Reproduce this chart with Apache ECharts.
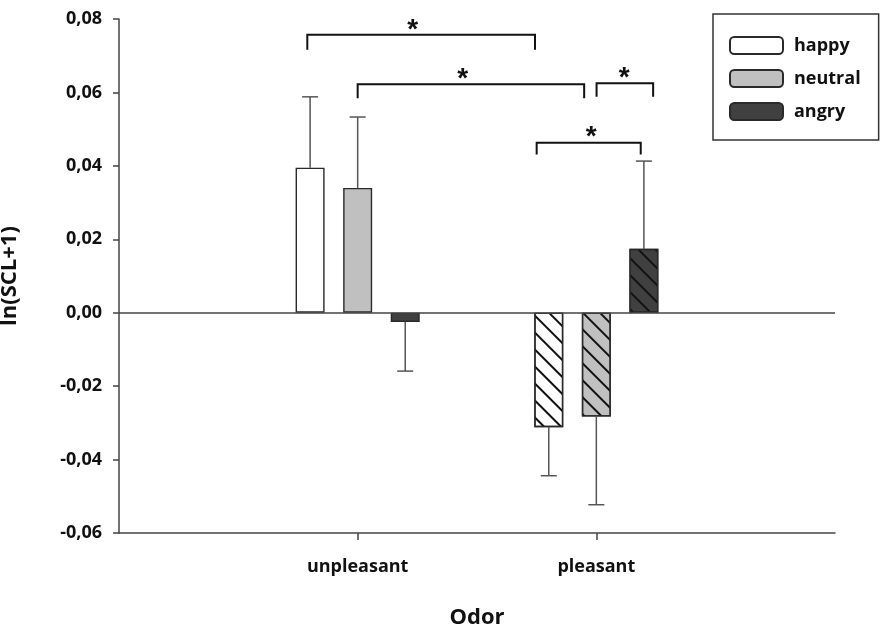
<!DOCTYPE html>
<html>
<head>
<meta charset="utf-8">
<script src="https://cdn.jsdelivr.net/npm/echarts@6/dist/echarts.min.js"></script>
<style>
  html, body { margin: 0; padding: 0; background: #fff; }
  #chart { width: 880px; height: 630px; }
</style>
</head>
<body>
<div id="chart"></div>
<script>
// Odor condition on the x axis, facial expression as the grouped series
const categories = ['unpleasant', 'pleasant'];
const seriesNames = ['happy', 'neutral', 'angry'];

// Mean ln(SCL+1) per odor condition
const happyMean   = [0.0395, -0.0312];
const neutralMean = [0.0340, -0.0283];
const angryMean   = [-0.0025, 0.0174];

// Error bar lengths (drawn away from zero)
const happyErr   = [0.0193, 0.0132];
const neutralErr = [0.0193, 0.0240];
const angryErr   = [0.0134, 0.0239];

// Y axis range and step
const yMin = -0.06;
const yMax = 0.08;
const yStep = 0.02;

// Significance brackets: [start, end, bar level, leg end, asterisk position]
// in (category position, value) units; category 1 = unpleasant, 2 = pleasant
const brackets = [
  [0.789, 1.743, 0.0757, 0.0716, 1.231],
  [1.000, 1.949, 0.0622, 0.0584, 1.440],
  [2.001, 2.238, 0.0625, 0.0588, 2.117],
  [1.750, 2.186, 0.0463, 0.0431, 1.978]
];
const bracketMark = '*';

const FONT = '"Open Sans", "Noto Sans", sans-serif';
const INK = '#111';
const AXIS = '#444';
const fills = ['#ffffff', '#c0c0c0', '#404040'];
const BAR_W = 29;
const BAR_GAP = 0.64;

// Axis slots: an empty slot on either side of the two odor conditions
const slots = [''].concat(categories, ['']);
const means = [happyMean, neutralMean, angryMean];
const errs = [happyErr, neutralErr, angryErr];

const hatch = {
  symbol: 'rect',
  symbolSize: 1,
  dashArrayX: [1, 0],
  dashArrayY: [1.3, 9.3],
  rotation: Math.PI / 4,
  color: '#111',
  backgroundColor: 'rgba(0,0,0,0)'
};

const barSeries = seriesNames.map(function (name, si) {
  const data = [null];
  means[si].forEach(function (v, ci) {
    const item = { value: v };
    if (categories[ci] === 'pleasant') item.itemStyle = { decal: hatch };
    data.push(item);
  });
  data.push(null);
  const s = {
    name: name,
    type: 'bar',
    barWidth: BAR_W,
    barGap: (BAR_GAP * 100) + '%',
    itemStyle: { color: fills[si], borderColor: '#2a2a2a', borderWidth: 1.4 },
    emphasis: { disabled: true },
    silent: true,
    z: 3,
    data: data
  };
  if (si === 0) {
    s.markLine = {
      silent: true,
      symbol: 'none',
      label: { show: false },
      lineStyle: { color: AXIS, width: 1.5, type: 'solid' },
      data: [{ yAxis: 0 }],
      z: 4
    };
  }
  return s;
});

// Error bars: [slot, mean, error, series index]
const errData = [];
seriesNames.forEach(function (name, si) {
  categories.forEach(function (c, ci) {
    errData.push([ci + 1, means[si][ci], errs[si][ci], si]);
  });
});

const errorSeries = {
  type: 'custom',
  silent: true,
  z: 2,
  data: errData,
  renderItem: function (params, api) {
    const slot = api.value(0);
    const mean = api.value(1);
    const err = api.value(2);
    const si = api.value(3);
    const offset = (si - 1) * BAR_W * (1 + BAR_GAP);
    const end = mean >= 0 ? mean + err : mean - err;
    const p0 = api.coord([slot, mean]);
    const p1 = api.coord([slot, end]);
    const x = p0[0] + offset;
    const style = { stroke: '#555', lineWidth: 1.5 };
    return {
      type: 'group',
      children: [
        { type: 'line', shape: { x1: x, y1: p0[1], x2: x, y2: p1[1] }, style: style },
        { type: 'line', shape: { x1: x - 8, y1: p1[1], x2: x + 8, y2: p1[1] }, style: style }
      ]
    };
  }
};

const bracketSeries = {
  type: 'custom',
  silent: true,
  z: 5,
  dimensions: ['start', 'end', 'top', 'leg', 'mark'],
  encode: { x: 0, y: 2 },
  data: brackets,
  renderItem: function (params, api) {
    const unit = api.size([1, 0])[0];
    const xPix = function (u) {
      const base = Math.floor(u);
      return api.coord([base, 0])[0] + (u - base) * unit;
    };
    const x1 = xPix(api.value(0));
    const x2 = xPix(api.value(1));
    const xm = xPix(api.value(4));
    const yTop = api.coord([0, api.value(2)])[1];
    const yLeg = api.coord([0, api.value(3)])[1];
    const style = { stroke: INK, lineWidth: 2, fill: null };
    return {
      type: 'group',
      children: [
        { type: 'polyline', shape: { points: [[x1, yLeg], [x1, yTop], [x2, yTop], [x2, yLeg]] }, style: style },
        {
          type: 'text',
          style: {
            x: xm, y: yTop - 5,
            text: bracketMark,
            fill: INK,
            font: 'bold 28px "Liberation Sans", sans-serif',
            align: 'center', verticalAlign: 'middle'
          }
        }
      ]
    };
  }
};

const chart = echarts.init(document.getElementById('chart'), null, { renderer: 'canvas' });
chart.setOption({
  animation: false,
  backgroundColor: '#fff',
  textStyle: { fontFamily: FONT },
  grid: { left: 119, right: 45, top: 19, bottom: 97, containLabel: false, outerBoundsMode: 'none' },
  legend: {
    data: seriesNames,
    orient: 'vertical',
    left: 713,
    top: 14,
    itemWidth: 53,
    itemHeight: 17,
    itemGap: 14,
    padding: [22, 18, 19, 16],
    borderColor: '#333',
    borderWidth: 1.5,
    selectedMode: false,
    textStyle: { fontFamily: FONT, fontSize: 18, fontWeight: 'bold', color: INK, padding: [0, 0, 0, 6] }
  },
  xAxis: {
    type: 'category',
    data: slots,
    boundaryGap: false,
    name: 'Odor',
    nameLocation: 'middle',
    nameGap: 74,
    nameTextStyle: { fontFamily: FONT, fontSize: 22, fontWeight: 'bold', color: INK },
    axisLine: { onZero: false, lineStyle: { color: AXIS, width: 1.5 } },
    axisTick: {
      show: true, length: 7, lineStyle: { color: AXIS, width: 1.5 },
      interval: function (i, v) { return v !== ''; }
    },
    axisLabel: {
      margin: 25,
      fontFamily: FONT, fontSize: 18, fontWeight: 'bold', color: INK,
      interval: 0
    },
    splitLine: { show: false }
  },
  yAxis: {
    type: 'value',
    min: yMin,
    max: yMax,
    interval: yStep,
    name: 'ln(SCL+1)',
    nameLocation: 'middle',
    nameGap: 98,
    nameTextStyle: { fontFamily: FONT, fontSize: 22, fontWeight: 'bold', color: INK },
    axisLine: { show: true, lineStyle: { color: AXIS, width: 1.5 } },
    axisTick: { show: true, length: 6, lineStyle: { color: AXIS, width: 1.5 } },
    axisLabel: {
      margin: 17,
      fontFamily: FONT, fontSize: 18, fontWeight: 'bold', color: INK,
      formatter: function (v) { return (Math.round(v * 100) / 100).toFixed(2).replace('.', ','); }
    },
    splitLine: { show: false }
  },
  series: barSeries.concat([errorSeries, bracketSeries])
});
</script>
</body>
</html>
